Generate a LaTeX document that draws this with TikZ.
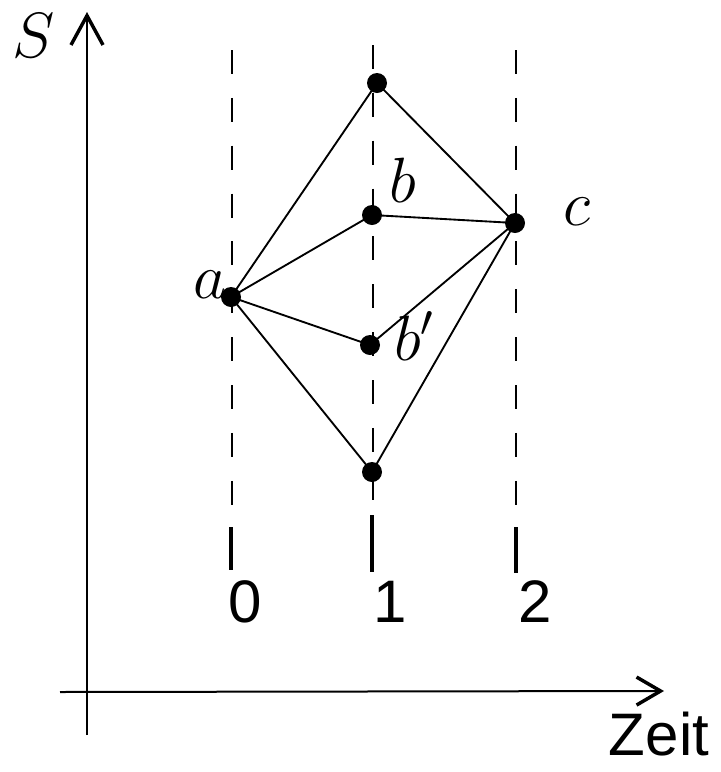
\RequirePackage{fix-cm}
\documentclass[tikz,border=0pt]{standalone}
\usepackage{fontspec}
\setsansfont{Liberation Sans}
\usetikzlibrary{arrows.meta}
\begin{document}
\begin{tikzpicture}[x=0.75pt,y=-0.75pt,
  dot/.style={circle,fill=black,inner sep=0pt,minimum width=15pt,minimum height=14pt},
  edge/.style={line width=1.4pt},
  axis/.style={line width=1.5pt},
  guide/.style={line width=1.4pt,dash pattern=on 18pt off 17.9pt},
  tickmark/.style={line width=2.8pt},
  mlab/.style={inner sep=0pt,font=\fontsize{48}{58}\selectfont},
  slab/.style={inner sep=0pt,font=\sffamily\fontsize{45}{54}\selectfont}]
\useasboundingbox (0,0) rectangle (721,772);
% axes
\coordinate (yb) at (87,735);
\coordinate (yt) at (87,12);
\coordinate (xl) at (60,692);
\coordinate (xr) at (664,691);
\draw[axis,-{Straight Barb[length=22pt,width=24pt,line width=2.6pt]}] (yb) -- (yt);
\draw[axis,-{Straight Barb[length=18pt,width=21pt,line width=2.6pt]}] (xl) -- (xr);
% guides
\coordinate (g0t) at (232,50);
\coordinate (g0b) at (232,520);
\coordinate (g1t) at (373,45);
\coordinate (g1b) at (373,512);
\coordinate (g2t) at (516,50);
\coordinate (g2b) at (516,520);
\draw[guide] (g0t) -- (g0b);
\draw[guide] (g1t) -- (g1b);
\draw[guide] (g2t) -- (g2b);
% tick marks
\coordinate (t0t) at (231,527);
\coordinate (t0b) at (231,570);
\coordinate (t1t) at (372,515);
\coordinate (t1b) at (372,572);
\coordinate (t2t) at (516,527);
\coordinate (t2b) at (516,573);
\draw[tickmark] (t0t) -- (t0b);
\draw[tickmark] (t1t) -- (t1b);
\draw[tickmark] (t2t) -- (t2b);
% points
\node[dot] (a) at (231,297) {};
\node[dot] (top) at (377,83) {};
\node[dot] (b) at (372,215) {};
\node[dot] (c) at (515,223) {};
\node[dot] (bp) at (370,345) {};
\node[dot] (bot) at (372,472) {};
% edges
\draw[edge] (a.center) -- (top.center);
\draw[edge] (a.center) -- (b.center);
\draw[edge] (a.center) -- (bp.center);
\draw[edge] (a.center) -- (bot.center);
\draw[edge] (top.center) -- (c.center);
\draw[edge] (b.center) -- (c.center);
\draw[edge] (bp.center) -- (c.center);
\draw[edge] (bot.center) -- (c.center);
% labels
\node[mlab,anchor=base] (la) at (210,298) {$a$};
\node[mlab,anchor=base] (lb) at (403,202) {$b$};
\node[mlab,anchor=base] (lc) at (577,225) {$c$};
\node[mlab,anchor=base] (lbp) at (414,360) {$b'$};
\node[mlab,anchor=base] (lS) at (34,57) {$S$};
\node[slab,anchor=base] (l0) at (245,622) {0};
\node[slab,anchor=base] (l1) at (390,622) {1};
\node[slab,anchor=base] (l2) at (535,622) {2};
\node[slab,anchor=base] (lz) at (659,755) {Zeit};
\end{tikzpicture}
\end{document}
